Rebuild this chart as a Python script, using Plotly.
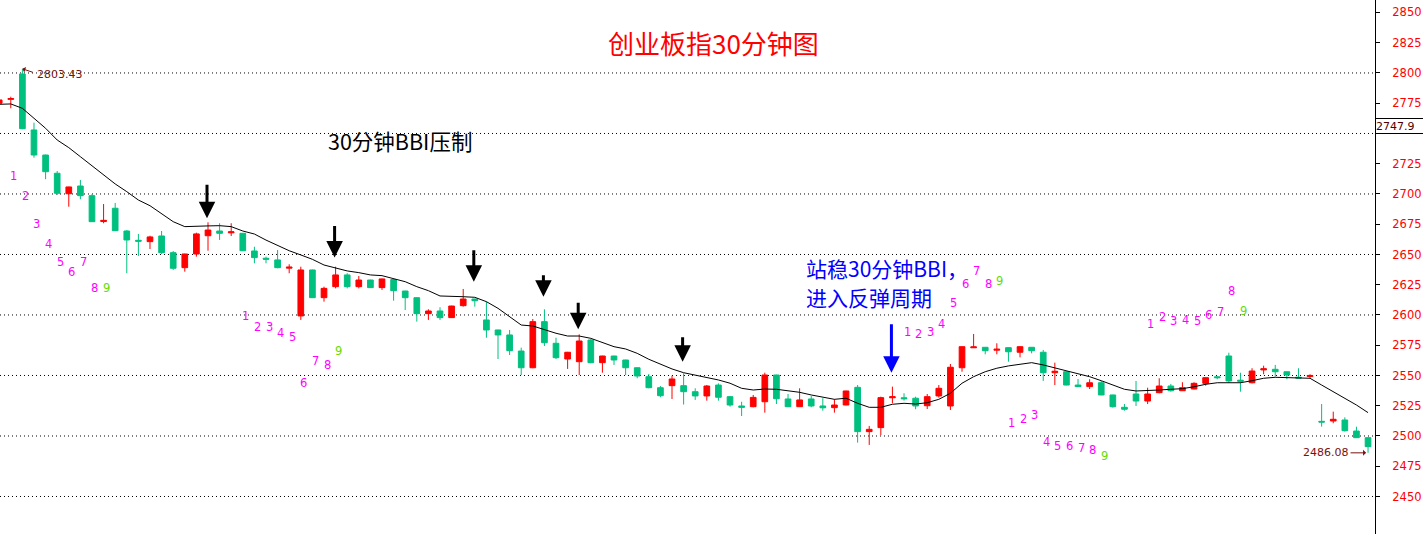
import plotly.graph_objects as go

# ---------------- data ----------------
OPEN = [2775.0, 2778.2, 2799.2, 2752.9, 2732.2, 2717.1, 2700.2, 2706.6, 2698.6, 2677.2,
        2688.2, 2669.4, 2661.7, 2660.6, 2665.3, 2651.5, 2639.1, 2650.4, 2665.5, 2669.4,
        2667.9, 2667.5, 2652.9, 2646.9, 2645.5, 2638.7, 2599.2, 2637.2, 2614.3, 2623.4,
        2633.1, 2623.4, 2628.9, 2622.6, 2629.3, 2619.8, 2614.3, 2601.1, 2603.3, 2597.8,
        2607.7, 2613.2, 2595.9, 2587.6, 2583.5, 2570.2, 2556.4, 2594.5, 2576.6, 2563.6,
        2561.4, 2579.3, 2560.6, 2566.1, 2562.8, 2556.4, 2549.0, 2539.9, 2541.6, 2541.6,
        2536.6, 2533.1, 2542.1, 2532.5, 2524.8, 2524.2, 2528.3, 2550.4, 2530.6, 2524.2,
        2530.6, 2524.8, 2523.4, 2525.6, 2540.2, 2503.6, 2506.9, 2531.6, 2531.6, 2531.2,
        2525.0, 2533.1, 2524.8, 2556.4, 2572.9, 2573.3, 2570.9, 2573.0, 2569.2, 2573.3,
        2569.2, 2552.3, 2553.1, 2542.1, 2540.8, 2544.0, 2533.9, 2523.7, 2534.7, 2528.9,
        2535.8, 2541.3, 2537.4, 2538.8, 2543.5, 2548.9, 2566.1, 2546.1, 2544.0, 2554.6,
        2555.1, 2553.1, 2548.6, 2549.2, 2512.1, 2512.4, 2513.2, 2504.1, 2498.6]
HIGH = [2778.5, 2780.4, 2803.43, 2758.9, 2732.5, 2719.0, 2706.0, 2711.6, 2699.8, 2691.7,
        2692.6, 2670.2, 2667.0, 2665.5, 2669.4, 2652.9, 2650.6, 2668.0, 2676.6, 2675.8,
        2675.8, 2667.8, 2656.4, 2648.2, 2653.7, 2641.9, 2639.9, 2637.5, 2623.4, 2639.9,
        2634.5, 2632.2, 2629.1, 2630.0, 2629.5, 2620.0, 2614.5, 2604.7, 2606.4, 2607.6,
        2621.5, 2613.4, 2611.0, 2587.8, 2587.6, 2573.0, 2596.7, 2604.7, 2581.2, 2569.5,
        2584.0, 2580.2, 2566.3, 2566.3, 2563.0, 2556.6, 2551.2, 2541.3, 2549.8, 2551.8,
        2539.4, 2542.1, 2543.5, 2533.1, 2528.3, 2533.9, 2552.3, 2550.6, 2534.7, 2539.4,
        2533.1, 2531.2, 2530.3, 2537.4, 2542.1, 2508.3, 2532.5, 2540.8, 2535.3, 2532.5,
        2534.7, 2542.1, 2559.5, 2574.0, 2584.3, 2573.5, 2576.6, 2573.2, 2574.0, 2573.5,
        2571.1, 2560.6, 2553.3, 2547.1, 2546.9, 2545.5, 2534.1, 2526.4, 2545.5, 2539.9,
        2547.7, 2543.0, 2544.4, 2544.4, 2548.4, 2549.6, 2568.8, 2552.3, 2556.0, 2558.1,
        2558.7, 2553.3, 2556.0, 2551.0, 2526.4, 2520.1, 2515.4, 2507.7, 2498.8]
LOW = [2774.0, 2770.8, 2753.5, 2730.0, 2712.2, 2699.2, 2689.5, 2695.6, 2677.0, 2675.8,
       2669.5, 2634.5, 2648.8, 2654.5, 2650.4, 2637.2, 2635.8, 2648.2, 2653.1, 2662.0,
       2665.3, 2653.0, 2642.7, 2642.7, 2638.6, 2634.5, 2595.9, 2614.0, 2611.0, 2622.0,
       2622.0, 2622.0, 2622.4, 2620.7, 2611.8, 2604.1, 2594.5, 2595.9, 2595.9, 2597.6,
       2606.9, 2606.9, 2581.2, 2563.6, 2566.9, 2550.4, 2556.0, 2574.4, 2563.6, 2555.4,
       2550.4, 2560.1, 2552.3, 2558.7, 2550.4, 2547.7, 2539.4, 2532.0, 2530.6, 2526.0,
       2529.8, 2529.2, 2529.2, 2524.2, 2516.5, 2523.7, 2519.3, 2526.4, 2524.0, 2524.0,
       2523.7, 2520.9, 2519.3, 2525.4, 2494.5, 2492.6, 2500.8, 2527.0, 2529.2, 2522.1,
       2522.3, 2531.7, 2521.5, 2553.1, 2572.7, 2567.5, 2567.5, 2561.4, 2565.0, 2568.3,
       2545.5, 2542.1, 2541.9, 2540.6, 2538.8, 2533.7, 2523.4, 2520.9, 2524.8, 2526.4,
       2535.3, 2536.6, 2537.2, 2538.6, 2541.6, 2546.9, 2544.0, 2536.6, 2543.5, 2551.0,
       2549.0, 2546.9, 2547.8, 2547.7, 2507.7, 2510.5, 2503.6, 2498.4, 2486.08]
CLOSE = [2777.7, 2778.8, 2754.0, 2732.2, 2718.4, 2700.6, 2705.8, 2698.6, 2677.1, 2678.2,
         2669.7, 2662.0, 2661.0, 2664.5, 2651.5, 2638.6, 2650.4, 2667.0, 2670.2, 2667.5,
         2668.7, 2653.1, 2647.4, 2646.1, 2639.1, 2639.5, 2637.2, 2614.3, 2622.0, 2633.1,
         2623.4, 2628.9, 2622.6, 2629.8, 2620.1, 2614.3, 2601.1, 2603.3, 2597.8, 2607.4,
         2613.2, 2611.8, 2587.6, 2583.5, 2570.5, 2556.4, 2594.5, 2577.1, 2564.7, 2569.2,
         2578.5, 2560.6, 2566.1, 2562.8, 2556.4, 2549.6, 2539.9, 2533.3, 2547.1, 2536.6,
         2533.1, 2541.3, 2532.0, 2525.6, 2523.7, 2531.9, 2550.4, 2530.8, 2524.2, 2529.8,
         2524.8, 2523.3, 2525.6, 2537.2, 2503.6, 2505.5, 2531.7, 2532.4, 2530.8, 2524.8,
         2532.5, 2539.4, 2556.8, 2573.8, 2573.6, 2570.5, 2571.7, 2569.6, 2573.8, 2570.5,
         2552.3, 2553.5, 2542.1, 2540.8, 2544.0, 2533.9, 2524.2, 2522.1, 2528.9, 2534.7,
         2541.3, 2537.4, 2539.9, 2543.5, 2548.2, 2548.2, 2545.5, 2545.3, 2553.7, 2555.5,
         2553.1, 2550.4, 2547.9, 2550.0, 2511.5, 2513.8, 2504.4, 2498.6, 2491.2]
BBI = [2774.1, 2774.4, 2770.8, 2762.6, 2754.3, 2744.6, 2738.3, 2730.8, 2723.1, 2715.7,
       2708.3, 2701.9, 2695.0, 2690.3, 2684.0, 2677.1, 2673.0, 2673.0, 2673.6, 2673.8,
       2673.0, 2669.4, 2666.9, 2661.9, 2657.3, 2653.1, 2649.6, 2646.0, 2641.3, 2639.1,
       2636.4, 2635.0, 2633.1, 2632.5, 2630.3, 2627.5, 2623.4, 2620.1, 2615.7, 2615.1,
       2615.1, 2614.6, 2611.0, 2605.5, 2598.6, 2591.7, 2590.9, 2587.6, 2584.9, 2582.6,
       2582.6, 2580.7, 2577.1, 2573.8, 2571.9, 2568.3, 2563.4, 2559.3, 2555.4, 2552.3,
       2550.4, 2548.5, 2546.3, 2543.6, 2539.4, 2538.0, 2538.8, 2538.6, 2537.4, 2536.1,
       2533.9, 2532.0, 2530.3, 2531.2, 2527.0, 2523.7, 2523.7, 2526.2, 2527.0, 2526.4,
       2527.5, 2530.3, 2535.3, 2543.6, 2549.0, 2553.1, 2556.0, 2557.9, 2559.3, 2560.6,
       2558.7, 2556.4, 2553.7, 2551.2, 2549.0, 2545.7, 2542.1, 2538.6, 2537.2, 2537.4,
       2538.0, 2538.6, 2539.1, 2540.7, 2542.7, 2544.0, 2544.0, 2544.0, 2545.7, 2547.7,
       2548.5, 2548.2, 2548.2, 2547.7, 2542.1, 2536.6, 2531.2, 2525.6, 2519.3]
IDX = list(range(len(CLOSE)))

# TD-style count labels: (candle index, price level, text)
TD_IDX = [1, 2, 3, 4, 5, 6, 7, 8, 9,
          21, 22, 23, 24, 25, 26, 27, 28, 29,
          78, 79, 80, 81, 82, 83, 84, 85, 86,
          87, 88, 89, 90, 91, 92, 93, 94, 95,
          99, 100, 101, 102, 103, 104, 105, 106, 107]
TD_PRICE = [2715.1, 2698.6, 2675.5, 2658.4, 2643.8, 2635.8, 2643.8, 2622.6, 2622.1,
            2599.2, 2590.3, 2589.8, 2585.4, 2581.6, 2543.6, 2562.2, 2558.7, 2570.5,
            2586.2, 2584.3, 2586.2, 2592.6, 2610.2, 2625.6, 2636.4, 2625.6, 2628.3,
            2510.5, 2513.8, 2517.4, 2495.3, 2491.7, 2491.7, 2489.8, 2488.4, 2483.5,
            2592.6, 2598.6, 2595.0, 2595.9, 2595.3, 2600.0, 2602.2, 2619.8, 2603.6]
TD_TEXT = ["1", "2", "3", "4", "5", "6", "7", "8", "9"] * 5

# arrows marking BBI resistance: candle index and tip price
PRESS_IDX = [18, 29, 41, 47, 50, 59]
PRESS_TIP = [2679.9, 2647.4, 2627.5, 2615.1, 2588.2, 2561.4]
PRESS_LEN = [35, 33, 33, 23, 28, 26]
SUPPORT_IDX = 77
SUPPORT_TIP = 2552.3

Y_TICKS = list(range(2450, 2851, 25))
GRID_LEVELS = list(range(2450, 2801, 50))
LAST_PRICE = 2747.9
HIGH_MARK = 2803.43
LOW_MARK = 2486.08

TITLE = "创业板指30分钟图"
NOTE1 = "30分钟BBI压制"
NOTE2A = "站稳30分钟BBI，"
NOTE2B = "进入反弹周期"

RED = "#FF0000"
GREEN = "#00C080"
MAROON = "#7A1010"
CJK = "Noto Sans CJK SC"

# ---------------- figure ----------------
fig = go.Figure()
fig.add_trace(go.Candlestick(
    x=IDX, open=OPEN, high=HIGH, low=LOW, close=CLOSE,
    increasing=dict(line=dict(color=RED, width=1), fillcolor=RED),
    decreasing=dict(line=dict(color=GREEN, width=1), fillcolor=GREEN),
    whiskerwidth=0, showlegend=False, hoverinfo="skip"))
fig.add_trace(go.Scatter(x=IDX, y=BBI, mode="lines",
                         line=dict(color="black", width=1), showlegend=False,
                         hoverinfo="skip"))

shapes = []
for g in GRID_LEVELS:
    shapes.append(dict(type="line", xref="paper", x0=0, x1=1, yref="y", y0=g, y1=g,
                       line=dict(color="black", width=1, dash="1px,3px"), layer="below"))

ann = []
ann.append(dict(text=TITLE, xref="paper", yref="paper", x=713 / 1375, y=1 - 43 / 534,
                xanchor="center", yanchor="middle",
                showarrow=False, font=dict(family=CJK, size=26, color=RED)))
ann.append(dict(text=NOTE1, xref="paper", yref="paper", x=326 / 1375, y=1 - 140 / 534,
                xanchor="left", yanchor="middle", showarrow=False,
                font=dict(family=CJK, size=21.5, color="black")))
ann.append(dict(text=NOTE2A, xref="paper", yref="paper", x=804 / 1375, y=1 - 268 / 534,
                xanchor="left", yanchor="middle", showarrow=False,
                font=dict(family=CJK, size=21, color="#0000FF")))
ann.append(dict(text=NOTE2B, xref="paper", yref="paper", x=804 / 1375, y=1 - 297 / 534,
                xanchor="left", yanchor="middle", showarrow=False,
                font=dict(family=CJK, size=21, color="#0000FF")))

for i, p, t in zip(TD_IDX, TD_PRICE, TD_TEXT):
    ann.append(dict(text=t, x=i, y=p, xref="x", yref="y", showarrow=False, xshift=3,
                    xanchor="center", yanchor="middle",
                    font=dict(family="DejaVu Sans", size=11.5,
                              color="#66DD00" if t == "9" else "#FF00FF")))

for i, p, L in zip(PRESS_IDX, PRESS_TIP, PRESS_LEN):
    ann.append(dict(text="", x=i, y=p, xref="x", yref="y", ax=0, ay=-L, xshift=-1,
                    showarrow=True, arrowhead=2, arrowsize=1.1, arrowwidth=3,
                    arrowcolor="black"))
ann.append(dict(text="", x=SUPPORT_IDX, y=SUPPORT_TIP, xref="x", yref="y", ax=0, ay=-50,
                xshift=-1, showarrow=True, arrowhead=2, arrowsize=1.1, arrowwidth=3,
                arrowcolor="#0000FF"))

# high / low markers
ann.append(dict(text=f"{HIGH_MARK:.2f}", x=2, y=HIGH_MARK, xref="x", yref="y",
                xanchor="left", yanchor="middle", xshift=13, yshift=-6, showarrow=False,
                font=dict(family="DejaVu Sans", size=11, color=MAROON)))
ann.append(dict(text="", x=2, y=HIGH_MARK, xref="x", yref="y", ax=12, ay=4,
                showarrow=True, arrowhead=1, arrowsize=1, arrowwidth=1,
                arrowcolor=MAROON))
ann.append(dict(text=f"{LOW_MARK:.2f}", x=118, y=LOW_MARK, xref="x", yref="y",
                ax=-42, ay=0, showarrow=True, arrowhead=1, arrowsize=1, arrowwidth=1,
                standoff=2, arrowcolor=MAROON,
                font=dict(family="DejaVu Sans", size=11, color=MAROON)))

# last price box on the axis
ann.append(dict(text=f"{LAST_PRICE}", xref="paper", yref="y", x=1.0, y=LAST_PRICE,
                xanchor="left", yanchor="middle", yshift=10, showarrow=False, align="left",
                width=60, height=14, borderpad=0, bordercolor="black", borderwidth=1,
                bgcolor="white", font=dict(family="DejaVu Sans", size=11, color="#500000")))

tick_text = ["" if v == 2750 else str(v) for v in Y_TICKS]

fig.update_layout(
    width=1423, height=534,
    margin=dict(l=0, r=48, t=0, b=0, autoexpand=False),
    paper_bgcolor="white", plot_bgcolor="white",
    shapes=shapes, annotations=ann, boxgap=0.3,
    xaxis=dict(range=[0.07, 118.6], visible=False, rangeslider=dict(visible=False),
               fixedrange=True),
    yaxis=dict(range=[2419.0, 2860.3], side="right", showgrid=False, zeroline=False,
               showline=True, linecolor="black", linewidth=1, fixedrange=True,
               tickvals=Y_TICKS, ticktext=tick_text,
               ticks="outside", ticklen=4, tickcolor="black",
               ticklabelstandoff=10,
               tickfont=dict(family="DejaVu Sans", size=11.5, color=RED)),
)

fig.write_html("out.html", config={"displayModeBar": False},
               post_script="document.body.style.margin='0';document.body.style.overflow='hidden';")
